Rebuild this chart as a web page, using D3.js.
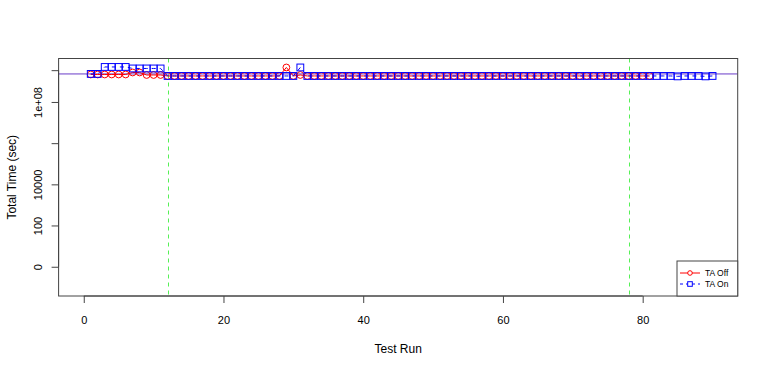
<!DOCTYPE html>
<html>
<head>
<meta charset="utf-8">
<script src="https://cdn.jsdelivr.net/npm/d3@7"></script>
<style>
  body { margin: 0; background: #fff; }
  svg { font-family: "Liberation Sans", Arial, Helvetica, sans-serif; }
</style>
</head>
<body>
<svg width="768" height="369"></svg>
<script>
// Total time per test run, in seconds
const taOff = [
  2.16e9, 2.16e9, 2.16e9, 2.16e9, 2.16e9, 2.16e9, 2.70e9, 2.70e9, 2.04e9, 2.04e9,
  2.04e9, 1.83e9, 1.83e9, 1.83e9, 1.83e9, 1.83e9, 1.83e9, 1.83e9, 1.83e9, 1.83e9,
  1.83e9, 1.83e9, 1.83e9, 1.83e9, 1.83e9, 1.83e9, 1.83e9, 1.83e9, 4.73e9, 1.83e9,
  2.04e9, 1.83e9, 1.83e9, 1.83e9, 1.83e9, 1.83e9, 1.83e9, 1.83e9, 1.83e9, 1.83e9,
  1.83e9, 1.83e9, 1.83e9, 1.83e9, 1.83e9, 1.83e9, 1.83e9, 1.83e9, 1.83e9, 1.83e9,
  1.83e9, 1.83e9, 1.83e9, 1.83e9, 1.83e9, 1.83e9, 1.83e9, 1.83e9, 1.83e9, 1.83e9,
  1.83e9, 1.83e9, 1.83e9, 1.83e9, 1.83e9, 1.83e9, 1.83e9, 1.83e9, 1.83e9, 1.83e9,
  1.83e9, 1.83e9, 1.83e9, 1.83e9, 1.83e9, 1.83e9, 1.83e9, 1.83e9, 1.83e9, 1.83e9,
  1.83e9
];
const taOn = [
  2.30e9, 2.30e9, 5.00e9, 5.00e9, 5.00e9, 5.00e9, 4.23e9, 4.23e9, 4.23e9, 4.23e9,
  4.23e9, 1.83e9, 1.83e9, 1.83e9, 1.83e9, 1.83e9, 1.83e9, 1.83e9, 1.83e9, 1.83e9,
  1.83e9, 1.83e9, 1.83e9, 1.83e9, 1.83e9, 1.83e9, 1.83e9, 1.83e9, 1.83e9, 1.83e9,
  4.73e9, 1.83e9, 1.83e9, 1.83e9, 1.83e9, 1.83e9, 1.83e9, 1.83e9, 1.83e9, 1.83e9,
  1.83e9, 1.83e9, 1.83e9, 1.83e9, 1.83e9, 1.83e9, 1.83e9, 1.83e9, 1.83e9, 1.83e9,
  1.83e9, 1.83e9, 1.83e9, 1.83e9, 1.83e9, 1.83e9, 1.83e9, 1.83e9, 1.83e9, 1.83e9,
  1.83e9, 1.83e9, 1.83e9, 1.83e9, 1.83e9, 1.83e9, 1.83e9, 1.83e9, 1.83e9, 1.83e9,
  1.83e9, 1.83e9, 1.83e9, 1.83e9, 1.83e9, 1.83e9, 1.83e9, 1.83e9, 1.83e9, 1.83e9,
  1.83e9, 1.83e9, 1.83e9, 1.83e9, 1.75e9, 1.83e9, 1.83e9, 1.83e9, 1.75e9, 1.83e9
];
const refLine = 2.29e9;          // horizontal reference line
const phaseRuns = [12, 78];      // green dashed markers
const xTicks = [0, 20, 40, 60, 80];
const yTicks = [0, 100, 1e4, 1e6, 1e8, 3.5e9];
const yTickLabels = ['0', '100', '10000', '', '1e+08', ''];
const legendItems = ['TA Off', 'TA On'];

const svg = d3.select('svg');
const box = {left: 58.6, right: 737.7, top: 58.5, bottom: 296};

const x = d3.scaleLinear()
  .domain([-3.6, 93.6])
  .range([box.left, box.right]);

// log10(v + 1) so that zero sits on the axis
const t = v => Math.log10(v + 1);
const yT = d3.scaleLinear()
  .domain([-1.42, 10.11])
  .range([box.bottom, box.top]);
const y = v => yT(t(v));

svg.append('clipPath').attr('id', 'plot')
  .append('rect')
  .attr('x', box.left).attr('y', box.top)
  .attr('width', box.right - box.left).attr('height', box.bottom - box.top);

const plot = svg.append('g').attr('clip-path', 'url(#plot)');

// vertical phase markers
plot.selectAll('.phase')
  .data(phaseRuns)
  .enter().append('line')
    .attr('x1', d => Math.round(x(d)) + 0.5).attr('x2', d => Math.round(x(d)) + 0.5)
    .attr('y1', box.top).attr('y2', box.bottom)
    .attr('stroke', '#55f055')
    .attr('stroke-dasharray', '4,4');

// reference line
plot.append('line')
  .attr('x1', box.left).attr('x2', box.right)
  .attr('y1', y(refLine)).attr('y2', y(refLine))
  .attr('stroke', '#6a3cc8');

const line = d3.line()
  .x((d, i) => x(i + 1))
  .y(d => y(d));

plot.append('path')
  .datum(taOff)
  .attr('d', line)
  .attr('fill', 'none')
  .attr('stroke', 'red');

plot.selectAll('.off')
  .data(taOff)
  .enter().append('circle')
    .attr('cx', (d, i) => x(i + 1))
    .attr('cy', d => y(d))
    .attr('r', 3.4)
    .attr('fill', 'none')
    .attr('stroke', 'red');

plot.append('path')
  .datum(taOn)
  .attr('d', line)
  .attr('fill', 'none')
  .attr('stroke', 'blue')
  .attr('stroke-dasharray', '4,4');

plot.selectAll('.on')
  .data(taOn)
  .enter().append('rect')
    .attr('x', (d, i) => x(i + 1) - 3.4)
    .attr('y', d => y(d) - 3.4)
    .attr('width', 6.8)
    .attr('height', 6.8)
    .attr('fill', 'none')
    .attr('stroke', 'blue');

// frame
svg.append('rect')
  .attr('x', box.left).attr('y', box.top)
  .attr('width', box.right - box.left).attr('height', box.bottom - box.top)
  .attr('fill', 'none')
  .attr('stroke', '#444');

// x axis
const gx = svg.append('g')
  .attr('transform', `translate(0,${box.bottom})`)
  .call(d3.axisBottom(x).tickValues(xTicks).tickSize(7).tickPadding(13));
gx.select('.domain').remove();
gx.selectAll('line').attr('stroke', '#444');
gx.selectAll('text').attr('font-size', 11).attr('fill', '#000');
gx.append('line')
  .attr('x1', x(xTicks[0])).attr('x2', x(xTicks[xTicks.length - 1]))
  .attr('stroke', '#444');

// y axis
const gy = svg.append('g')
  .attr('transform', `translate(${box.left},0)`)
  .call(d3.axisLeft(yT).tickValues(yTicks.map(t)).tickSize(7)
    .tickFormat((d, i) => yTickLabels[i]));
gy.select('.domain').remove();
gy.selectAll('line').attr('stroke', '#444');
gy.selectAll('text')
  .attr('font-size', 11)
  .attr('fill', '#000')
  .attr('x', null).attr('dy', null)
  .attr('text-anchor', 'middle')
  .attr('transform', 'translate(-17,0) rotate(-90)');
gy.append('line')
  .attr('y1', yT(t(yTicks[0]))).attr('y2', yT(t(yTicks[yTicks.length - 1])))
  .attr('stroke', '#444');

// axis titles
svg.append('text')
  .attr('x', (box.left + box.right) / 2)
  .attr('y', 353)
  .attr('text-anchor', 'middle')
  .attr('font-size', 12)
  .text('Test Run');

svg.append('text')
  .attr('transform', `translate(16,${(box.top + box.bottom) / 2}) rotate(-90)`)
  .attr('text-anchor', 'middle')
  .attr('font-size', 12)
  .text('Total Time (sec)');

// legend
const lg = svg.append('g').attr('transform', 'translate(677,261)');
lg.append('rect')
  .attr('width', box.right - 677).attr('height', box.bottom - 261)
  .attr('fill', '#fff').attr('stroke', '#444');

const item = lg.selectAll('.item')
  .data(legendItems)
  .enter().append('g')
    .attr('transform', (d, i) => `translate(0,${12 + i * 11})`);

item.append('line')
  .attr('x1', 3).attr('x2', 23)
  .attr('stroke', (d, i) => i ? 'blue' : 'red')
  .attr('stroke-dasharray', (d, i) => i ? '3,3' : null);
item.filter((d, i) => i === 0).append('circle')
  .attr('cx', 13).attr('r', 2.3)
  .attr('fill', '#fff').attr('stroke', 'red');
item.filter((d, i) => i === 1).append('rect')
  .attr('x', 10.7).attr('y', -2.3).attr('width', 4.6).attr('height', 4.6)
  .attr('fill', '#fff').attr('stroke', 'blue');
item.append('text')
  .attr('x', 28)
  .attr('dy', '0.35em')
  .attr('font-size', 8.5)
  .text(d => d);
</script>
</body>
</html>
